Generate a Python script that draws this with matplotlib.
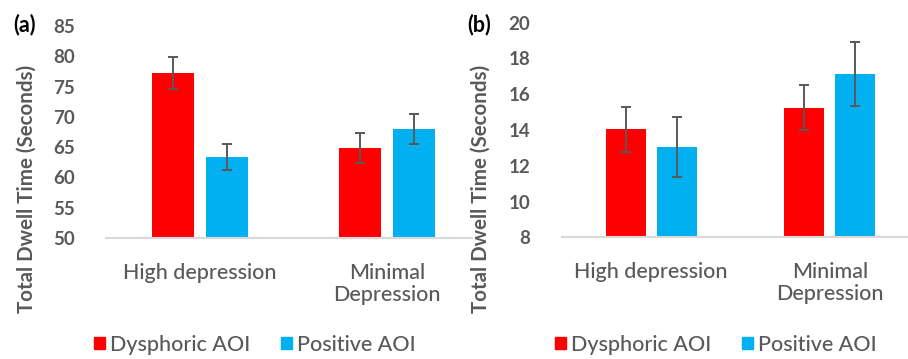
import matplotlib
matplotlib.use("Agg")
import matplotlib.pyplot as plt
from matplotlib.patches import Patch

plt.rcParams['font.family'] = ['Lato', 'DejaVu Sans']

categories = ["High depression", "Minimal\nDepression"]
series = ["Dysphoric AOI", "Positive AOI"]
colors = ["#FF0000", "#00B0F0"]

# panel (a)
a_dysphoric = [77.2, 64.9]
a_dysphoric_err = [2.65, 2.5]
a_positive = [63.4, 68.0]
a_positive_err = [2.2, 2.4]
a_ticks = [50, 55, 60, 65, 70, 75, 80, 85]

# panel (b)
b_dysphoric = [14.03, 15.24]
b_dysphoric_err = [1.25, 1.25]
b_positive = [13.05, 17.12]
b_positive_err = [1.7, 1.8]
b_ticks = [8, 10, 12, 14, 16, 18, 20]

W, H = 908, 359
fig = plt.figure(figsize=(W / 100, H / 100), dpi=100)

grey = "#595959"


def px_axes(x0, x1, ytop, ybot):
    return fig.add_axes([x0 / W, (H - ybot) / H, (x1 - x0) / W, (ybot - ytop) / H])


def panel(ax, vals1, err1, vals2, err2, ticks, xmax, label, label_x, legend_x):
    x = list(range(len(categories)))
    width = 0.225
    off = 0.143
    ekw = dict(ecolor=grey, elinewidth=1.4, capsize=3.8, capthick=1.4)
    ax.bar([i - off for i in x], vals1, width, color=colors[0], yerr=err1,
           error_kw=ekw, zorder=2)
    ax.bar([i + off for i in x], vals2, width, color=colors[1], yerr=err2,
           error_kw=ekw, zorder=2)
    ax.set_xlim(-0.5, xmax)
    ax.set_ylim(ticks[0], ticks[-1])
    ax.set_yticks(ticks)
    ax.set_yticklabels([str(t) for t in ticks], fontsize=13.5, fontweight="bold",
                       color=grey)
    ax.set_xticks(x)
    ax.set_xticklabels(categories, fontsize=15.5, color=grey, linespacing=1.1,
                       fontweight="medium")
    ax.tick_params(axis="both", length=0)
    ax.tick_params(axis="y", pad=23)
    ax.tick_params(axis="x", pad=18)
    for s in ["top", "right", "left"]:
        ax.spines[s].set_visible(False)
    ax.spines["bottom"].set_color("#D9D9D9")
    ax.spines["bottom"].set_linewidth(1.5)
    ax.set_facecolor("none")

    # y label placed by pixel position
    fig.text(label_x / W, (H - 189) / H, "Total Dwell Time (Seconds)", rotation=90,
             fontsize=14.8, fontweight="bold", color=grey, ha="center", va="center")
    fig.text((label_x - 2) / W, (H - 25) / H, label, fontsize=15.5,
             fontweight="bold", color="black", ha="center", va="center")

    handles = [Patch(color=c, label=s) for c, s in zip(colors, series)]
    fig.legend(handles=handles, loc="center", bbox_to_anchor=(legend_x / W, (H - 345) / H),
               ncol=2, frameon=False, handlelength=0.5, handleheight=0.5,
               handletextpad=0.25, columnspacing=1.4, labelcolor=grey,
               prop=dict(size=15.5, weight="medium"))


ax1 = px_axes(106.5, 472, 26, 238)
panel(ax1, a_dysphoric, a_dysphoric_err, a_positive, a_positive_err, a_ticks,
      1.5 - (480.5 - 472) / 187, "(a)", 27, 255)

ax2 = px_axes(562, 919, 22.7, 237.3)
panel(ax2, b_dysphoric, b_dysphoric_err, b_positive, b_positive_err, b_ticks,
      1.5, "(b)", 481, 716)

fig.savefig("out.png", dpi=100)
